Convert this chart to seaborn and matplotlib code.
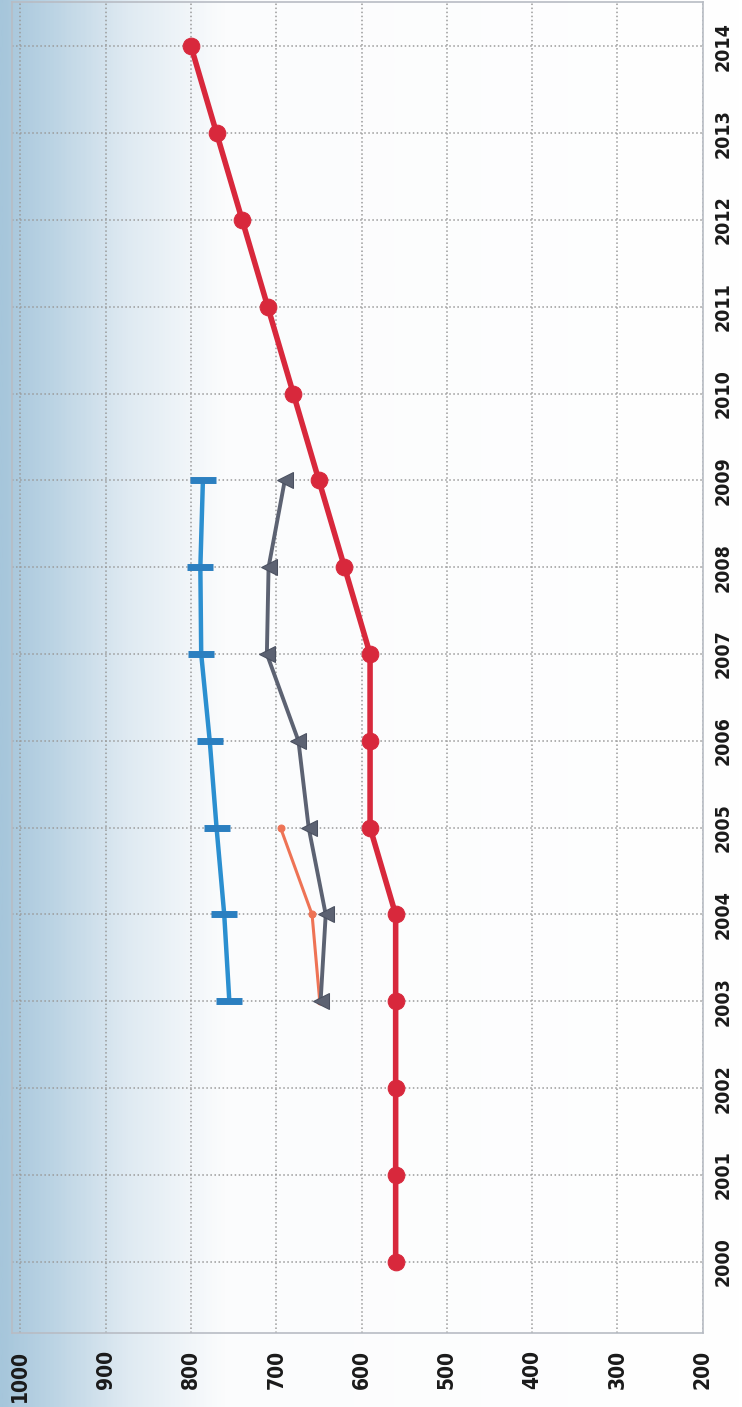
import numpy as np
import pandas as pd
import matplotlib
matplotlib.use("Agg")
import matplotlib.pyplot as plt
import seaborn as sns
from matplotlib.colors import LinearSegmentedColormap

# data (chart is drawn lying on its side: values along x, years along y)
years = [2000, 2001, 2002, 2003, 2004, 2005, 2006, 2007, 2008, 2009, 2010, 2011, 2012, 2013, 2014]
growth_target = [560, 560, 560, 560, 560, 590, 590, 590, 620, 650, 680, 710, 740, 770, 800]

years_0309 = [2003, 2004, 2005, 2006, 2007, 2008, 2009]
blue_api = [755, 761, 770, 778, 788, 789, 786]
gray_api = [648, 642, 662, 674, 711, 709, 690]

years_0305 = [2003, 2004, 2005]
orange_api = [649, 658, 695]

value_ticks = [1000, 900, 800, 700, 600, 500, 400, 300, 200]

sns.set_style("white")
plt.rcParams['font.family'] = ['Liberation Sans Narrow', 'DejaVu Sans']
plt.rcParams['font.stretch'] = 'condensed'

fig = plt.figure(figsize=(7.42, 14.07), dpi=100)

# blue scan-like gradient on the left side
bg = fig.add_axes([0, 0, 1, 1], zorder=0)
grad_cmap = LinearSegmentedColormap.from_list(
    "bg", [(0.0, "#a6c6db"), (0.07, "#bcd4e4"), (0.17, "#dfeaf2"), (0.30, "#fbfcfd"), (1.0, "#ffffff")])
bg.imshow(np.linspace(0, 1, 400)[None, :], aspect="auto", cmap=grad_cmap, extent=[0, 1, 0, 1])
bg.set_axis_off()

ax = fig.add_axes([0.016, 0.0526, 0.931, 0.946], zorder=1)
ax.patch.set_alpha(0)

red = pd.DataFrame({"year": years, "api": growth_target})
blue = pd.DataFrame({"year": years_0309, "api": blue_api})
gray = pd.DataFrame({"year": years_0309, "api": gray_api})
orange = pd.DataFrame({"year": years_0305, "api": orange_api})

sns.lineplot(data=blue, x="api", y="year", orient="y", sort=False, ax=ax, color="#2b8fd0",
             lw=3.2, marker="_", markersize=19, mew=5, mec="#2b7fc0", zorder=3)
sns.lineplot(data=orange, x="api", y="year", orient="y", sort=False, ax=ax, color="#ee7355",
             lw=2.2, marker="o", markersize=5, mec="#ee7355", zorder=3)
sns.lineplot(data=gray, x="api", y="year", orient="y", sort=False, ax=ax, color="#5c6272",
             lw=2.8, marker="<", markersize=11, mec="#4a5060", zorder=4)
sns.lineplot(data=red, x="api", y="year", orient="y", sort=False, ax=ax, color="#d8283c",
             lw=4, marker="o", markersize=12, mec="#d8283c", zorder=5)

ax.set_xlim(1010, 200)
ax.set_ylim(1999.18, 2014.51)
ax.set_xticks(value_ticks)
ax.set_xticklabels([str(v) for v in value_ticks], rotation=90, fontsize=15, fontweight="bold",
                   color="#1a1a1a", fontstretch="condensed")
ax.set_yticks(years)
ax.yaxis.tick_right()
ax.set_yticklabels([str(y) for y in years], rotation=90, va="center", fontsize=14, fontweight="bold",
                   color="#1a1a1a", fontstretch="condensed")
ax.tick_params(axis="x", length=0, pad=12)
ax.tick_params(axis="y", length=0, pad=8)
ax.set_xlabel("")
ax.set_ylabel("")

ax.grid(True, linestyle=":", color="#9a9a9a", lw=1.1)
for s in ax.spines.values():
    s.set_color("#b8bcc4")
    s.set_linewidth(1.2)

fig.savefig("out.png", dpi=100)
